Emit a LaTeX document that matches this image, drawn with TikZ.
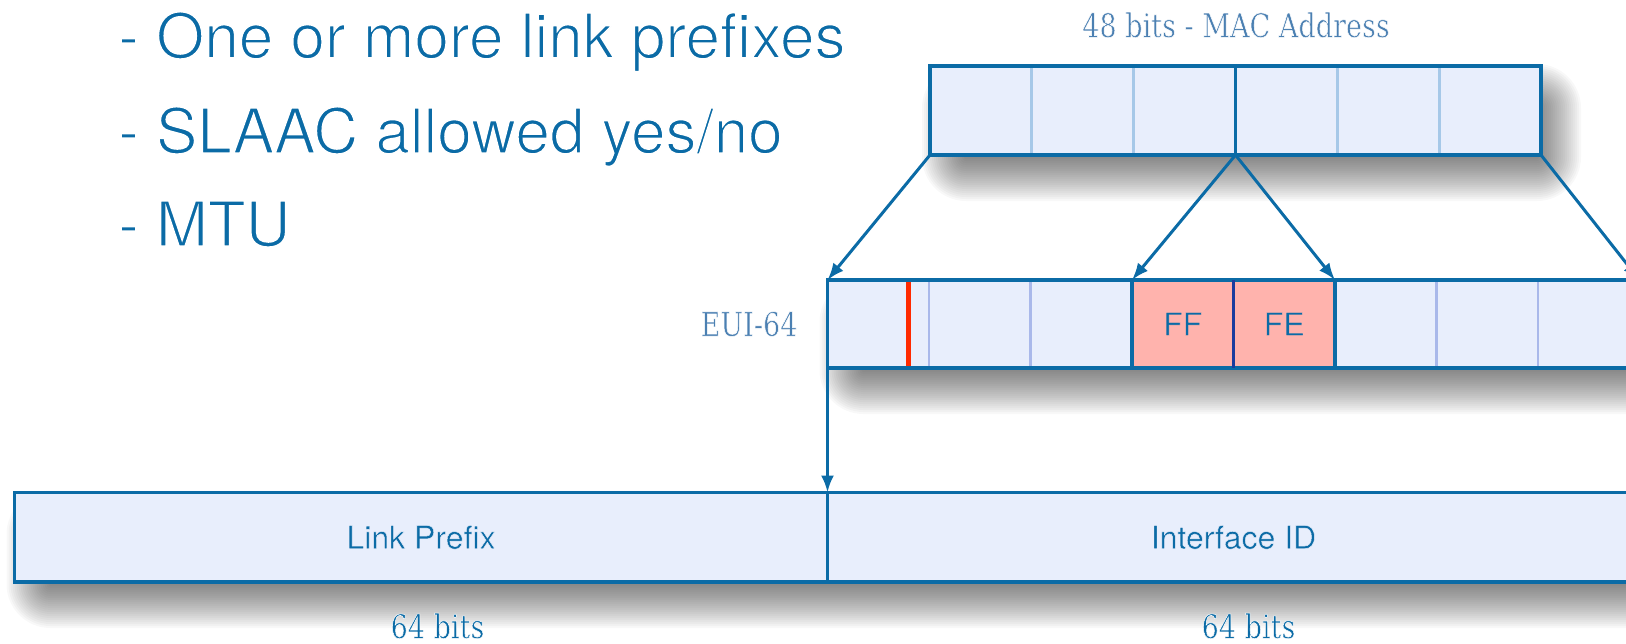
\documentclass[tikz,border=0pt]{standalone}
\usepackage{fontspec}
\setmainfont{TeX Gyre Heros}
\newfontfamily\slab[FakeStretch=0.82]{DejaVu Serif}
\usetikzlibrary{arrows.meta}

\definecolor{ink}{HTML}{0B6BA6}
\definecolor{cellfill}{HTML}{E8EEFC}
\definecolor{macdiv}{HTML}{A6C8E8}
\definecolor{euidiv}{HTML}{A9B8EA}
\definecolor{navy}{HTML}{1B3C9E}
\definecolor{pinkcell}{HTML}{FFB3AD}
\definecolor{flagred}{HTML}{FF2A00}
\definecolor{serifblue}{HTML}{4B80B2}

\pgfdeclarelayer{shade}
\pgfsetlayers{shade,main}

% thin the glyphs by outlining them in the background colour
\newcommand\thinned[3]{\special{pdf:code 2 Tr #1 RG #2 w}#3\special{pdf:code 0 Tr}}

% soft drop shadow under a named box, built from stacked translucent layers
\newcommand\softshadow[1]{%
  \begin{pgfonlayer}{shade}
  \foreach \r in {-20,-18,...,24}{%
    \pgfmathsetmacro\rr{max(2,\r+20)}%
    \fill[black, opacity=0.028, rounded corners=\rr pt]
      ([shift={({16-(\r)},{22-(\r)})}]#1.north west) rectangle
      ([shift={({16+(\r)},{22+(\r)})}]#1.south east);
  }%
  \end{pgfonlayer}}

\tikzset{
  box/.style={fill=cellfill, draw=none, inner sep=0pt, outer sep=0pt},
  frame/.style={draw=ink, line width=3.5pt},
  maccell/.style={draw=macdiv, line width=3pt, inner sep=0pt, outer sep=0pt,
    minimum width=101.833pt, minimum height=89pt},
  euicell/.style={draw=euidiv, line width=2.5pt, inner sep=0pt, outer sep=0pt,
    minimum width=101.5pt, minimum height=88pt},
  hexcell/.style={euicell, fill=pinkcell, text=ink,
    font=\fontsize{32}{38}\selectfont},
  barcell/.style={inner sep=0pt, outer sep=0pt, minimum height=89.5pt,
    text=ink, font=\fontsize{32}{38}\selectfont},
  link/.style={draw=ink, line width=3pt, -{Latex[length=17pt,width=13pt]}},
  seriflabel/.style={text=serifblue, font=\slab\fontsize{33}{38}\selectfont},
  listline/.style={anchor=base west, inner sep=0pt, text=ink,
    font=\fontsize{62}{74}\selectfont}
}

\begin{document}
\begin{tikzpicture}[x=1pt,y=-1pt]
\useasboundingbox (0,0) rectangle (1626,643);
\clip (0,0) rectangle (1626,643);

% router advertisement contents
\node[listline] (l1) at (118,58) {\thinned{1 1 1}{1.5}{- One or more link prefixes}};
\node[listline] (l2) at (118,153) {\thinned{1 1 1}{1.5}{- SLAAC allowed yes/no}};
\node[listline] (l3) at (118,246) {\thinned{1 1 1}{1.5}{- MTU}};

% 48-bit MAC address
\node[seriflabel] (mactitle) at (1236,25) {\thinned{1 1 1}{0.5}{48 bits - MAC Address}};
\node[box, minimum width=611pt, minimum height=89pt] (mac) at (1235.5,110.5) {};
\softshadow{mac}
\foreach \i in {1,...,6}
  \node[maccell] (m\i) at ({930+(\i-0.5)*101.833},110.5) {};
\draw[frame] (mac.north west) rectangle (mac.south east);
\draw[frame] (m3.north east) -- (m3.south east);

% modified EUI-64 interface identifier
\node[seriflabel] (euilabel) at (749,324) {\thinned{1 1 1}{0.5}{EUI-64}};
\node[box, minimum width=812pt, minimum height=88pt] (eui) at (1233.5,324) {};
\softshadow{eui}
\foreach \i in {1,2,3,6,7,8}
  \node[euicell] (e\i) at ({827.5+(\i-0.5)*101.5},324) {};
\node[hexcell] (e4) at ({827.5+3.5*101.5},324) {\thinned{1 .702 .678}{0.45}{FF}};
\node[hexcell] (e5) at ({827.5+4.5*101.5},324) {\thinned{1 .702 .678}{0.45}{FE}};
\draw[flagred, line width=5pt] ([xshift=80.5pt]e1.north west) -- ([xshift=80.5pt]e1.south west);
\draw[frame] (eui.north west) rectangle (eui.south east);
\draw[frame] (e4.north west) -- (e4.south west);
\draw[frame] (e5.north east) -- (e5.south east);
\draw[draw=navy, line width=2.5pt] (e4.north east) -- (e4.south east);

% 128-bit IPv6 address
\node[box, minimum width=1625pt, minimum height=89.5pt] (addr) at (827,537.25) {};
\softshadow{addr}
\node[barcell, minimum width=813pt] (lp) at (421,537.25) {\thinned{.91 .933 .988}{0.45}{Link Prefix}};
\node[barcell, minimum width=812pt] (iid) at (1233.5,537.25) {\thinned{.91 .933 .988}{0.45}{Interface ID}};
\draw[frame] (addr.north west) rectangle (addr.south east);
\draw[frame] (lp.north east) -- (lp.south east);
\node[seriflabel, text=ink] (lpbits) at (437.5,626) {\thinned{1 1 1}{0.5}{64 bits}};
\node[seriflabel, text=ink] (iidbits) at (1248.5,626) {\thinned{1 1 1}{0.5}{64 bits}};

% how the MAC bytes map into the identifier
\draw[link] (mac.south west) -- (eui.north west);
\draw[link] (m3.south east) -- (e4.north west);
\draw[link] (m3.south east) -- (e5.north east);
\draw[link] (mac.south east) -- (eui.north east);
\draw[link] (eui.south west) -- (lp.north east);
\end{tikzpicture}
\end{document}
